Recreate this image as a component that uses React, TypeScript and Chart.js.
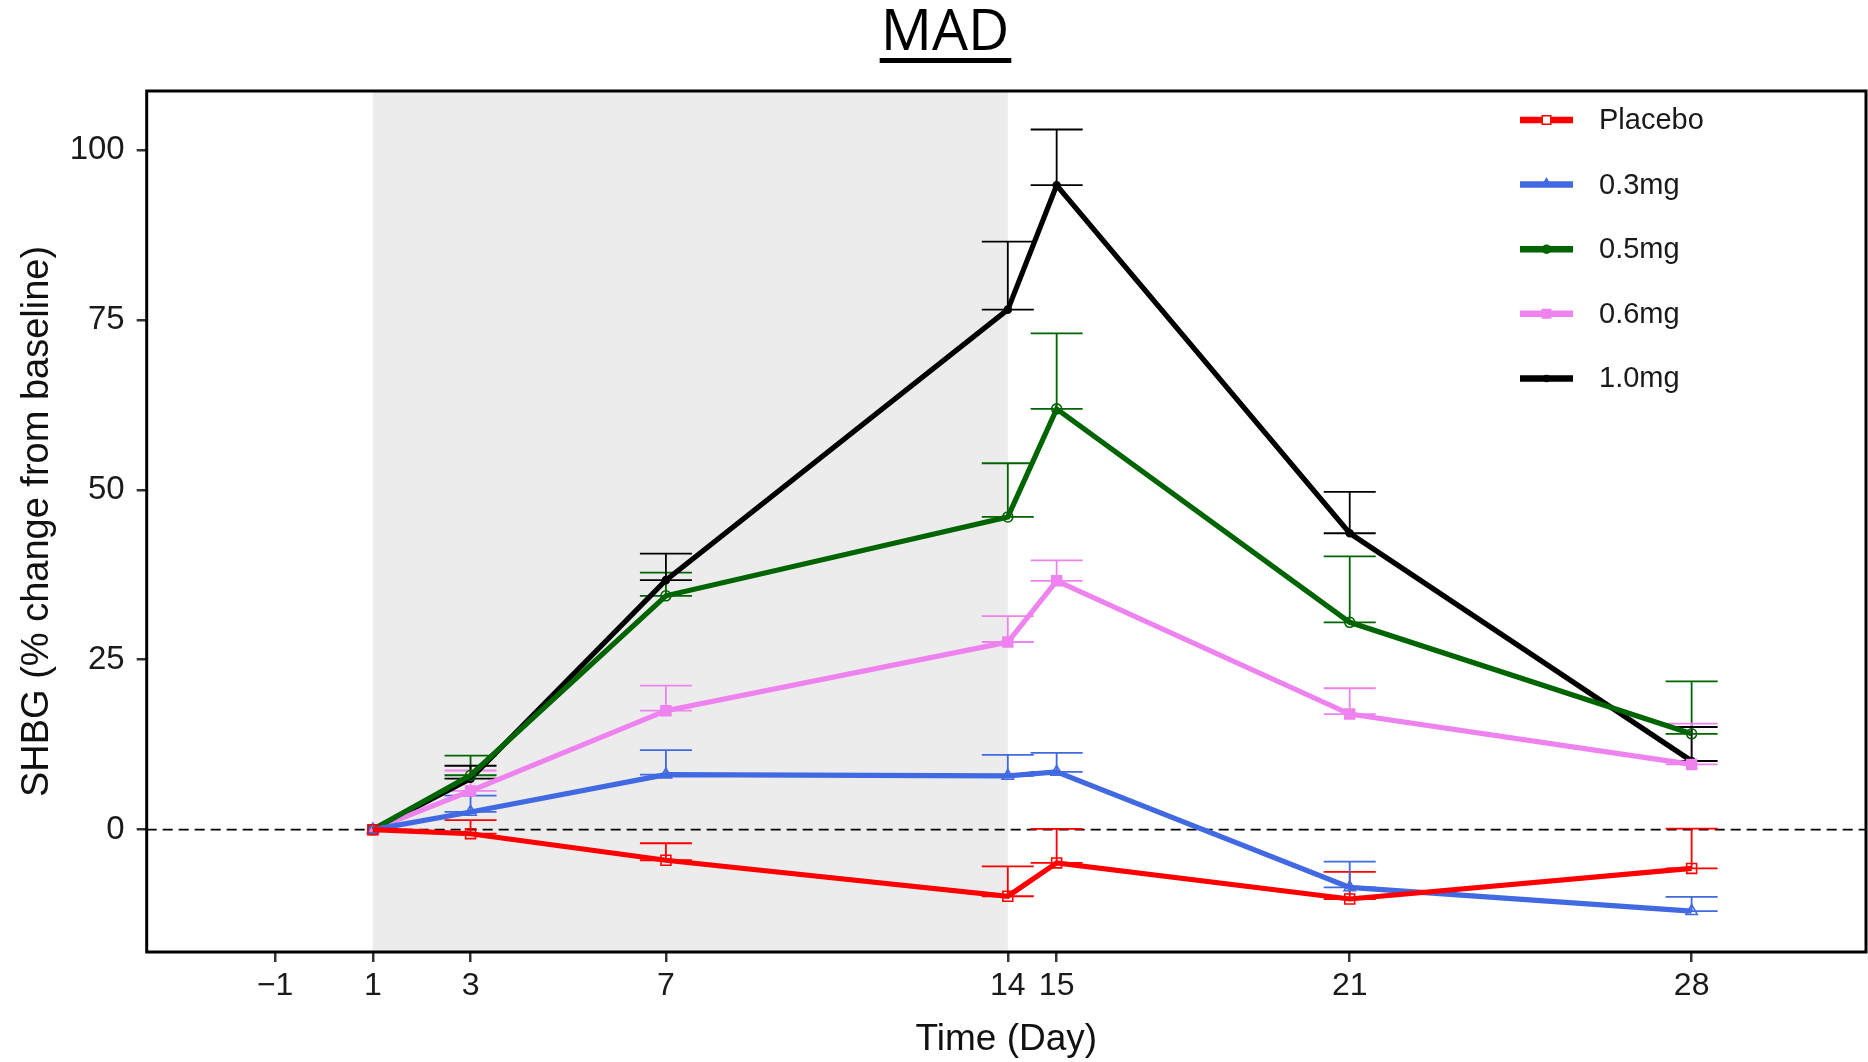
import React, { useEffect, useRef } from 'react';
import { Chart, registerables } from 'chart.js';

Chart.register(...registerables);

// ---- data ----
const DAYS = [1, 3, 7, 14, 15, 21, 28];
const X_TICKS = [-1, 1, 3, 7, 14, 15, 21, 28];
const Y_TICKS = [0, 25, 50, 75, 100];
const SERIES_NAMES = ['Placebo', '0.3mg', '0.5mg', '0.6mg', '1.0mg'];

const PLACEBO_MEAN = [0, -0.6, -4.5, -9.8, -4.9, -10.2, -5.7];
const PLACEBO_UPPER = [0, 1.4, -2.0, -5.4, 0.1, -6.2, 0.15];
const MG03_MEAN = [0, 2.6, 8.1, 7.9, 8.5, -8.5, -12.0];
const MG03_UPPER = [0, 5.0, 11.7, 11.0, 11.3, -4.7, -9.9];
const MG05_MEAN = [0, 8.0, 34.4, 46.0, 61.9, 30.5, 14.1];
const MG05_UPPER = [0, 10.9, 37.8, 53.9, 73.0, 40.2, 21.8];
const MG06_MEAN = [0, 5.7, 17.5, 27.6, 36.6, 17.0, 9.6];
const MG06_UPPER = [0, 8.7, 21.2, 31.4, 39.6, 20.8, 15.6];
const MG10_MEAN = [0, 7.5, 36.7, 76.5, 94.8, 43.6, 10.1];
const MG10_UPPER = [0, 9.4, 40.6, 86.5, 103.0, 49.7, 15.1];

const DOSING_START = 1;
const DOSING_END = 14;
const REFERENCE_Y = 0;

const TITLE = 'MAD';
const X_TITLE = 'Time (Day)';
const Y_TITLE = 'SHBG (% change from baseline)';

// ---- styles ----
const COLORS = ['#ff0000', '#4169e1', '#006400', '#ee82ee', '#000000'];
const POINT_STYLES = ['rect', 'triangle', 'circle', 'rect', 'circle'];
const POINT_RADII = [7, 6.5, 5, 7, 3.5];
const POINT_FILLS = ['rgba(255,255,255,0)', 'rgba(255,255,255,0)', 'rgba(255,255,255,0)', '#ee82ee', '#000000'];
const FONT = '"Liberation Sans", Arial, sans-serif';

const MEANS = [PLACEBO_MEAN, MG03_MEAN, MG05_MEAN, MG06_MEAN, MG10_MEAN];
const UPPERS = [PLACEBO_UPPER, MG03_UPPER, MG05_UPPER, MG06_UPPER, MG10_UPPER];

const fmt = (v: number) => (v < 0 ? '\u2212' + Math.abs(v) : String(v));

function drawMarker(ctx: CanvasRenderingContext2D, style: string, x: number, y: number, r: number, fill: string, stroke: string, lw: number) {
  ctx.save();
  ctx.fillStyle = fill;
  ctx.strokeStyle = stroke;
  ctx.lineWidth = lw;
  ctx.beginPath();
  if (style === 'rect') {
    const s = r * 0.85;
    ctx.rect(x - s, y - s, 2 * s, 2 * s);
  } else if (style === 'triangle') {
    ctx.moveTo(x, y - r);
    ctx.lineTo(x + r * 0.9, y + r * 0.55);
    ctx.lineTo(x - r * 0.9, y + r * 0.55);
    ctx.closePath();
  } else {
    ctx.arc(x, y, r, 0, Math.PI * 2);
  }
  ctx.fill();
  ctx.stroke();
  ctx.restore();
}

const backgroundPlugin = {
  id: 'bgDecor',
  beforeDatasetsDraw(chart: any) {
    const { ctx, chartArea, scales } = chart;
    const xs = scales.x;
    const ys = scales.y;
    ctx.save();
    // dosing period shading
    const x0 = xs.getPixelForValue(DOSING_START);
    const x1 = xs.getPixelForValue(DOSING_END);
    ctx.fillStyle = '#ececec';
    ctx.fillRect(x0, chartArea.top, x1 - x0, chartArea.bottom - chartArea.top);
    // dashed reference line
    const y0 = ys.getPixelForValue(REFERENCE_Y);
    ctx.strokeStyle = '#000';
    ctx.lineWidth = 1.6;
    ctx.setLineDash([10, 6]);
    ctx.beginPath();
    ctx.moveTo(chartArea.left, y0);
    ctx.lineTo(chartArea.right, y0);
    ctx.stroke();
    ctx.setLineDash([]);
    // error bars (mean to mean + SE, capped at both ends)
    chart.data.datasets.forEach((ds: any, i: number) => {
      const meta = chart.getDatasetMeta(i);
      ctx.strokeStyle = ds.borderColor;
      ctx.lineWidth = 1.8;
      meta.data.forEach((pt: any, j: number) => {
        const mean = MEANS[i][j];
        const up = UPPERS[i][j];
        if (up === mean) return;
        const x = pt.x;
        const ym = ys.getPixelForValue(mean);
        const yu = ys.getPixelForValue(up);
        const hw = 26;
        ctx.beginPath();
        ctx.moveTo(x, ym);
        ctx.lineTo(x, yu);
        ctx.moveTo(x - hw, yu);
        ctx.lineTo(x + hw, yu);
        ctx.moveTo(x - hw, ym);
        ctx.lineTo(x + hw, ym);
        ctx.stroke();
      });
    });
    ctx.restore();
  },
  afterDraw(chart: any) {
    const { ctx, chartArea } = chart;
    ctx.save();
    // frame
    ctx.strokeStyle = '#000';
    ctx.lineWidth = 3;
    ctx.strokeRect(chartArea.left, chartArea.top, chartArea.right - chartArea.left, chartArea.bottom - chartArea.top);
    // legend
    chart.data.datasets.forEach((ds: any, i: number) => {
      const y = 120 + i * 64.6;
      ctx.strokeStyle = ds.borderColor;
      ctx.lineWidth = 6.5;
      ctx.beginPath();
      ctx.moveTo(1520, y);
      ctx.lineTo(1573, y);
      ctx.stroke();
      const legendFill = i === 0 ? '#ffffff' : ds.borderColor;
      const legendR = i === 4 ? 3 : i === 2 ? 4 : 5;
      drawMarker(ctx, POINT_STYLES[i], 1546.5, i === 1 ? y - 1 : y, legendR, legendFill, ds.borderColor, 1.5);
      ctx.fillStyle = '#1a1a1a';
      ctx.font = '29px ' + FONT;
      ctx.textAlign = 'left';
      ctx.textBaseline = 'middle';
      ctx.fillText(ds.label, 1599, y + 1);
    });
    // title
    ctx.fillStyle = '#000';
    ctx.font = '57px "Open Sans", "Noto Sans", sans-serif';
    ctx.textAlign = 'center';
    ctx.textBaseline = 'alphabetic';
    const tx = 945;
    ctx.fillText(TITLE, tx, 50);
    const w = ctx.measureText(TITLE).width;
    ctx.fillRect(tx - w / 2 - 1, 58, w + 3, 5);
    ctx.restore();
  },
};

export default function App() {
  const ref = useRef<HTMLCanvasElement | null>(null);
  useEffect(() => {
    document.body.style.margin = '0';
    const canvas = ref.current;
    if (!canvas) return;
    const datasets = SERIES_NAMES.map((name, i) => ({
      label: name,
      data: DAYS.map((d, j) => ({ x: d, y: MEANS[i][j] })),
      borderColor: COLORS[i],
      backgroundColor: POINT_FILLS[i],
      pointBackgroundColor: POINT_FILLS[i],
      pointBorderColor: COLORS[i],
      pointStyle: POINT_STYLES[i],
      pointRadius: POINT_RADII[i],
      pointBorderWidth: 1.6,
      borderWidth: 5.2,
      tension: 0,
      fill: false,
    }));
    const chart = new Chart(canvas, {
      type: 'line',
      data: { datasets },
      plugins: [backgroundPlugin],
      options: {
        animation: false,
        responsive: false,
        events: [],
        layout: { autoPadding: false, padding: { top: 91, right: 2, left: 0, bottom: 0 } },
        plugins: {
          legend: { display: false },
          title: { display: false },
          tooltip: { enabled: false },
        },
        scales: {
          x: {
            type: 'linear',
            min: -3.63,
            max: 31.57,
            afterBuildTicks: (scale: any) => {
              scale.ticks = X_TICKS.map((v) => ({ value: v }));
            },
            afterFit: (scale: any) => {
              scale.height = 110;
              scale.paddingLeft = 0;
              scale.paddingRight = 0;
            },
            ticks: {
              autoSkip: false,
              maxRotation: 0,
              padding: 5,
              color: '#1a1a1a',
              font: { family: FONT, size: 32 },
              callback: (v: any) => fmt(Number(v)),
            },
            grid: {
              display: true,
              drawOnChartArea: false,
              drawTicks: true,
              tickLength: 10,
              color: '#333',
              lineWidth: 2.5,
            },
            border: { display: false },
            title: {
              display: true,
              text: X_TITLE,
              color: '#111',
              font: { family: FONT, size: 37 },
              padding: { top: 0, bottom: 0 },
            },
          },
          y: {
            type: 'linear',
            min: -18.0,
            max: 108.66,
            afterBuildTicks: (scale: any) => {
              scale.ticks = Y_TICKS.map((v) => ({ value: v }));
            },
            afterFit: (scale: any) => {
              scale.width = 146.7;
              scale.paddingTop = 0;
              scale.paddingBottom = 0;
            },
            ticks: {
              padding: 12,
              color: '#1a1a1a',
              font: { family: FONT, size: 33 },
              callback: (v: any) => fmt(Number(v)),
            },
            grid: {
              display: true,
              drawOnChartArea: false,
              drawTicks: true,
              tickLength: 10,
              color: '#333',
              lineWidth: 2.5,
            },
            border: { display: false },
            title: {
              display: true,
              text: Y_TITLE,
              color: '#111',
              font: { family: FONT, size: 38 },
              padding: { top: 14.5, bottom: 0 },
            },
          },
        },
      },
    } as any);
    return () => chart.destroy();
  }, []);
  return (
    <canvas
      ref={ref}
      width={1868}
      height={1062}
      style={{ display: 'block', width: '1868px', height: '1062px' }}
    />
  );
}
